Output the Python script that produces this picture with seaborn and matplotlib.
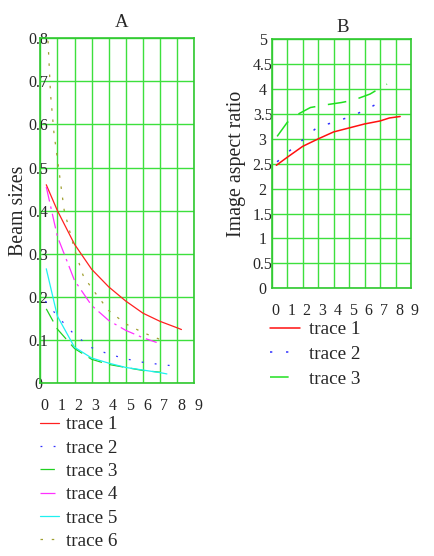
import numpy as np
import pandas as pd
import matplotlib
matplotlib.use("Agg")
import matplotlib.pyplot as plt
import seaborn as sns

# ---- panel A : beam sizes ----
a_t1_x = [0.35, 1, 2, 3, 4, 5, 6, 7, 8, 8.25]
a_t1_y = [0.46, 0.40, 0.322, 0.264, 0.223, 0.19, 0.162, 0.143, 0.128, 0.124]
a_t2_x = [0.3, 1, 2, 3, 4, 5, 6, 7, 7.7]
a_t2_y = [0.19, 0.155, 0.112, 0.082, 0.067, 0.056, 0.048, 0.043, 0.040]
a_t3_x = [0.35, 1, 2, 3, 4, 5, 6, 7]
a_t3_y = [0.172, 0.125, 0.08, 0.055, 0.043, 0.036, 0.029, 0.025]
a_t4_x = [0.35, 1, 2, 3, 4, 5, 6, 6.8]
a_t4_y = [0.455, 0.34, 0.238, 0.18, 0.145, 0.122, 0.105, 0.094]
a_t5_x = [0.35, 1, 2, 3, 4, 5, 6, 7, 7.4]
a_t5_y = [0.265, 0.155, 0.083, 0.058, 0.046, 0.036, 0.030, 0.024, 0.021]
a_t6_x = [0.42, 0.6, 0.8, 1.0, 1.4, 2.0, 2.5, 3.0, 4.0, 5.0, 6.0, 7.0, 7.4]
a_t6_y = [0.82, 0.67, 0.58, 0.52, 0.40, 0.31, 0.25, 0.22, 0.168, 0.137, 0.117, 0.101, 0.095]

# ---- panel B : image aspect ratio ----
b_t1_x = [0.3, 1, 2, 3, 4, 5, 6, 7, 7.6, 8.3]
b_t1_y = [2.47, 2.63, 2.85, 3.0, 3.14, 3.22, 3.30, 3.36, 3.42, 3.45]
b_t2_x = [0.35, 1, 2, 3, 4, 5, 6, 7, 7.3]
b_t2_y = [2.54, 2.72, 2.98, 3.25, 3.33, 3.44, 3.57, 3.74, 3.80]
b_t3_x = [0.35, 1, 1.6, 2.5, 3.4, 4.5, 5.3, 6.35, 7, 7.45]
b_t3_y = [3.05, 3.33, 3.48, 3.63, 3.68, 3.73, 3.78, 3.90, 4.02, 4.10]

x_ticks = list(range(10))
x_labels = [str(v) for v in x_ticks]
a_yticks = [0, 0.1, 0.2, 0.3, 0.4, 0.5, 0.6, 0.7, 0.8]
a_ylabels = ["0", "0.1", "0.2", "0.3", "0.4", "0.5", "0.6", "0.7", "0.8"]
b_yticks = [0, 0.5, 1, 1.5, 2, 2.5, 3, 3.5, 4, 4.5, 5]
b_ylabels = ["0", "0.5", "1", "1.5", "2", "2.5", "3", "3.5", "4", "4.5", "5"]

sns.set_style("white")
plt.rcParams['font.family'] = ['Liberation Serif', 'DejaVu Serif']

grid_col = '#3de03d'
frame_col = '#30c830'

fig = plt.figure(figsize=(4.35, 5.56), dpi=100)
axA = fig.add_axes([0.0926, 0.3112, 0.354, 0.620])
axB = fig.add_axes([0.6246, 0.4815, 0.3202, 0.4478])

lw = 0.9
tracesA = [
    (a_t1_x, a_t1_y, '#ff2020', '-', 'trace 1'),
    (a_t2_x, a_t2_y, '#3030ff', (0, (1.5, 9)), 'trace 2'),
    (a_t3_x, a_t3_y, '#20d020', (0, (11.5, 6)), 'trace 3'),
    (a_t4_x, a_t4_y, '#ff30ff', (0, (12, 4, 2, 4)), 'trace 4'),
    (a_t5_x, a_t5_y, '#20f0f0', '-', 'trace 5'),
    (a_t6_x, a_t6_y, '#a0a030', (0, (2, 7)), 'trace 6'),
]
for xs, ys, c, ls, lab in tracesA:
    sns.lineplot(x=xs, y=ys, ax=axA, color=c, linestyle=ls, lw=lw, label=lab)

tracesB = [
    (b_t1_x, b_t1_y, '#ff1010', '-', 'trace 1'),
    (b_t2_x, b_t2_y, '#3030ff', (0, (1.5, 9)), 'trace 2'),
    (b_t3_x, b_t3_y, '#20e020', (0, (12.2, 8.3)), 'trace 3'),
]
for xs, ys, c, ls, lab in tracesB:
    sns.lineplot(x=xs, y=ys, ax=axB, color=c, linestyle=ls, lw=1.1, label=lab)

for ax, yt, yl, lim, ypad in [(axA, a_yticks, a_ylabels, 0.8, 1.6),
                              (axB, b_yticks, b_ylabels, 5, 6.5)]:
    if ax.get_legend() is not None:
        ax.get_legend().remove()
    ax.set_xlim(0, 9)
    ax.set_ylim(0, lim)
    ax.set_xticks(x_ticks)
    ax.set_xticklabels(x_labels, ha='left')
    ax.set_yticks(yt)
    ax.set_yticklabels(yl, ha='center')
    ax.tick_params(axis='x', length=0, pad=10.5, labelsize=11.5)
    ax.tick_params(axis='y', length=0, pad=ypad, labelsize=11.5)
    ax.grid(True, color=grid_col, lw=1.0)
    for s in ax.spines.values():
        s.set_color(frame_col)
        s.set_linewidth(1.2)

axA.set_title('A', fontsize=13.5, pad=8, x=0.53)
axB.set_title('B', fontsize=13.5, pad=5, x=0.51)
axA.set_ylabel('Beam sizes', fontsize=14.3)
axA.yaxis.set_label_coords(-0.078, 0.5)
axB.set_ylabel('Image aspect ratio', fontsize=14.3)
axB.yaxis.set_label_coords(-0.185, 0.5)

hA, lA = axA.get_legend_handles_labels()
fig.legend(hA, lA, loc='upper left', bbox_to_anchor=(0.092, 0.252),
           frameon=False, fontsize=13.8, borderpad=0, borderaxespad=0,
           handlelength=1.0, handletextpad=0.35, labelspacing=0.31)
hB, lB = axB.get_legend_handles_labels()
fig.legend(hB, lB, loc='upper left', bbox_to_anchor=(0.621, 0.423),
           frameon=False, fontsize=13.8, borderpad=0, borderaxespad=0,
           handlelength=1.55, handletextpad=0.5, labelspacing=0.38)

fig.savefig('out.png', dpi=100)
